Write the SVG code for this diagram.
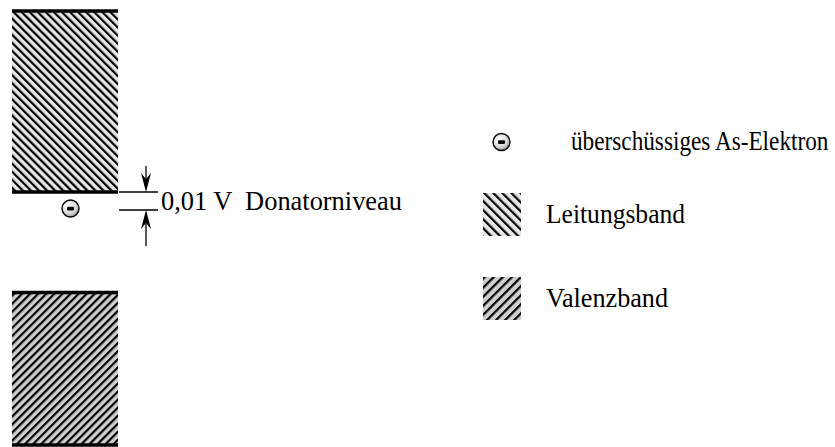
<svg xmlns="http://www.w3.org/2000/svg" width="835" height="447" viewBox="0 0 835 447">
  <style>
    .txt { font-family: "Liberation Serif", "Times New Roman", serif; font-size: 28px; fill: #000; }
    .edge { stroke: #000; stroke-width: 3.5; }
    .dim { stroke: #000; stroke-width: 1.3; fill: none; }
    .head { fill: #000; stroke: none; }
    .eout { fill: url(#eGrad); stroke: #000; stroke-width: 1.4; }
  </style>
  <defs>
    <pattern id="hatchL" patternUnits="userSpaceOnUse" width="5.7" height="10" patternTransform="rotate(-45)">
      <rect x="0" y="0" width="5.7" height="10" fill="#e6e6e6"/>
      <line x1="1.1" y1="0" x2="1.1" y2="10" stroke="#000" stroke-width="2.2"/>
    </pattern>
    <pattern id="hatchV" patternUnits="userSpaceOnUse" width="5.7" height="10" patternTransform="rotate(45)">
      <rect x="0" y="0" width="5.7" height="10" fill="#cfcfcf"/>
      <line x1="1.1" y1="0" x2="1.1" y2="10" stroke="#000" stroke-width="2.2"/>
    </pattern>
    <pattern id="hatchLs" patternUnits="userSpaceOnUse" width="6.4" height="10" patternTransform="rotate(-45)">
      <rect x="0" y="0" width="6.4" height="10" fill="#e6e6e6"/>
      <line x1="1.1" y1="0" x2="1.1" y2="10" stroke="#000" stroke-width="2.2"/>
    </pattern>
    <pattern id="hatchVs" patternUnits="userSpaceOnUse" width="6.4" height="10" patternTransform="rotate(45)">
      <rect x="0" y="0" width="6.4" height="10" fill="#cfcfcf"/>
      <line x1="1.1" y1="0" x2="1.1" y2="10" stroke="#000" stroke-width="2.2"/>
    </pattern>
    <radialGradient id="eGrad" cx="0.38" cy="0.35" r="0.7">
      <stop offset="0" stop-color="#ffffff"/>
      <stop offset="0.6" stop-color="#dadada"/>
      <stop offset="1" stop-color="#a0a0a0"/>
    </radialGradient>
  </defs>

  <g id="leitungsband">
    <rect x="12" y="12" width="106" height="180" fill="url(#hatchL)"/>
    <line class="edge" x1="12" y1="11" x2="118" y2="11"/>
    <line class="edge" x1="12" y1="192" x2="118" y2="192"/>
  </g>

  <g id="valenzband">
    <rect x="12" y="293" width="106" height="152" fill="url(#hatchV)"/>
    <line class="edge" x1="12" y1="292.5" x2="118" y2="292.5"/>
    <line class="edge" x1="12" y1="445" x2="118" y2="445"/>
  </g>

  <g id="elektron">
    <circle class="eout" cx="70.5" cy="208.5" r="8.5"/>
    <rect x="67" y="206.8" width="7" height="3.6" rx="1.2" fill="#000"/>
  </g>

  <g id="connectors">
    <line class="dim" x1="119" y1="192" x2="158" y2="192"/>
    <line class="dim" x1="119" y1="210" x2="158" y2="210"/>
    <line class="dim" x1="146" y1="166" x2="146" y2="182"/>
    <path class="head" d="M146,192 L141,173 L146,179 L151,173 Z"/>
    <line class="dim" x1="146" y1="220" x2="146" y2="246"/>
    <path class="head" d="M146,210 L141,229 L146,223 L151,229 Z"/>
  </g>

  <g id="label-donator">
    <text class="txt" x="161" y="210" xml:space="preserve" textLength="241" lengthAdjust="spacingAndGlyphs">0,01 V  Donatorniveau</text>
  </g>

  <g id="legend-elektron">
    <circle class="eout" cx="501.5" cy="142" r="8.5"/>
    <rect x="498" y="140.3" width="7" height="3.6" rx="1.2" fill="#000"/>
    <text class="txt" x="0" y="0" transform="translate(571,150) scale(0.83,1)">überschüssiges As-Elektron</text>
  </g>

  <g id="legend-leitungsband">
    <rect x="483" y="193" width="38" height="43" fill="url(#hatchLs)"/>
    <text class="txt" x="546" y="223" textLength="139" lengthAdjust="spacingAndGlyphs">Leitungsband</text>
  </g>

  <g id="legend-valenzband">
    <rect x="483" y="277" width="38" height="43" fill="url(#hatchVs)"/>
    <text class="txt" x="546" y="307" textLength="122" lengthAdjust="spacingAndGlyphs">Valenzband</text>
  </g>
</svg>
